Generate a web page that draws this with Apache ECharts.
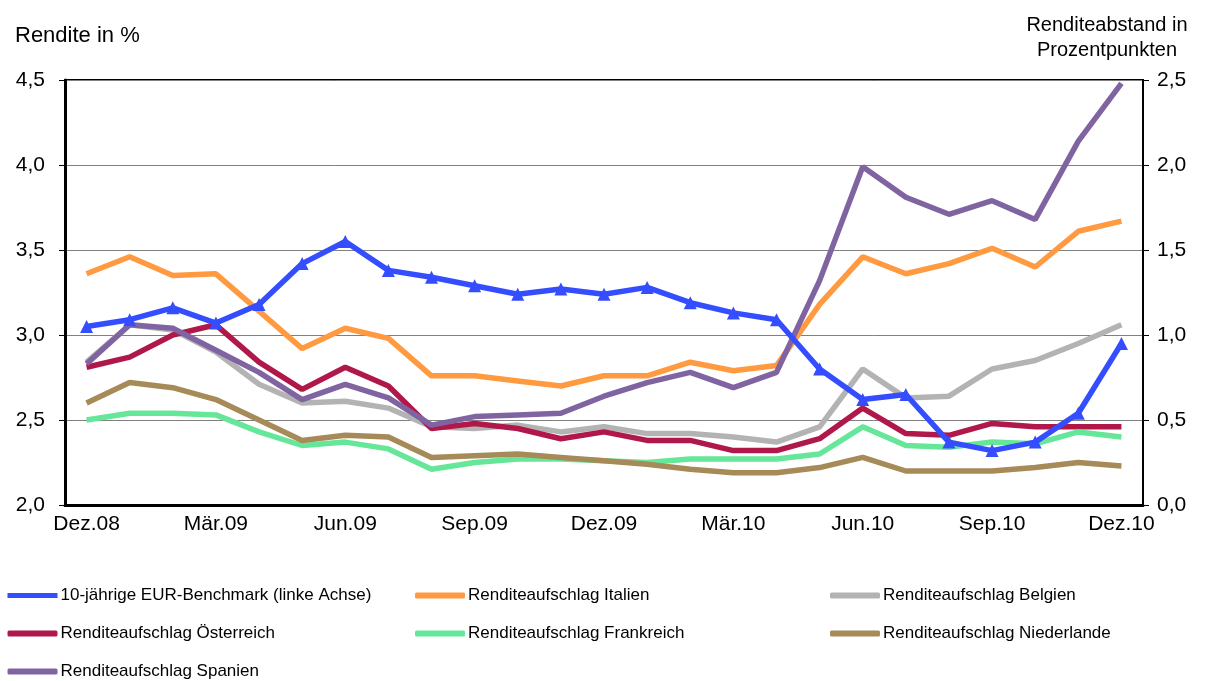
<!DOCTYPE html>
<html>
<head>
<meta charset="utf-8">
<script src="https://cdn.jsdelivr.net/npm/echarts@6/dist/echarts.min.js"></script>
<style>
  html, body { margin: 0; padding: 0; background: #fff; }
  #chart { width: 1210px; height: 681px; }
</style>
</head>
<body>
<div id="chart"></div>
<script>
// Monatswerte Dez.08 bis Dez.10
const months = ['Dez.08', 'Jan.09', 'Feb.09', 'Mär.09', 'Apr.09', 'Mai.09', 'Jun.09', 'Jul.09', 'Aug.09',
  'Sep.09', 'Okt.09', 'Nov.09', 'Dez.09', 'Jan.10', 'Feb.10', 'Mär.10', 'Apr.10', 'Mai.10', 'Jun.10',
  'Jul.10', 'Aug.10', 'Sep.10', 'Okt.10', 'Nov.10', 'Dez.10']

// linke Achse (Rendite in %)
const benchmark = [3.05, 3.09, 3.16, 3.07, 3.18, 3.42, 3.55, 3.38, 3.34, 3.29, 3.24, 3.27, 3.24,
  3.28, 3.19, 3.13, 3.09, 2.80, 2.62, 2.65, 2.37, 2.32, 2.37, 2.54, 2.95]

// rechte Achse (Renditeabstand in Prozentpunkten)
const italien = [1.36, 1.46, 1.35, 1.36, 1.14, 0.92, 1.04, 0.98, 0.76, 0.76, 0.73, 0.70, 0.76,
  0.76, 0.84, 0.79, 0.82, 1.18, 1.46, 1.36, 1.42, 1.51, 1.40, 1.61, 1.67]
const belgien = [0.84, 1.06, 1.03, 0.90, 0.71, 0.60, 0.61, 0.57, 0.46, 0.45, 0.47, 0.43, 0.46,
  0.42, 0.42, 0.40, 0.37, 0.46, 0.80, 0.63, 0.64, 0.80, 0.85, 0.95, 1.06]
const oesterreich = [0.81, 0.87, 1.00, 1.06, 0.84, 0.68, 0.81, 0.70, 0.45, 0.48, 0.45, 0.39, 0.43,
  0.38, 0.38, 0.32, 0.32, 0.39, 0.57, 0.42, 0.41, 0.48, 0.46, 0.46, 0.46]
const frankreich = [0.50, 0.54, 0.54, 0.53, 0.43, 0.35, 0.37, 0.33, 0.21, 0.25, 0.27, 0.27, 0.26,
  0.25, 0.27, 0.27, 0.27, 0.30, 0.46, 0.35, 0.34, 0.37, 0.36, 0.43, 0.40]
const niederlande = [0.60, 0.72, 0.69, 0.62, 0.50, 0.38, 0.41, 0.40, 0.28, 0.29, 0.30, 0.28, 0.26,
  0.24, 0.21, 0.19, 0.19, 0.22, 0.28, 0.20, 0.20, 0.20, 0.22, 0.25, 0.23]
const spanien = [0.83, 1.06, 1.04, 0.91, 0.78, 0.62, 0.71, 0.63, 0.47, 0.52, 0.53, 0.54, 0.64,
  0.72, 0.78, 0.69, 0.78, 1.32, 1.99, 1.81, 1.71, 1.79, 1.68, 2.14, 2.48]

const names = {
  bench: '10-jährige EUR-Benchmark (linke Achse)',
  it: 'Renditeaufschlag Italien',
  be: 'Renditeaufschlag Belgien',
  at: 'Renditeaufschlag Österreich',
  fr: 'Renditeaufschlag Frankreich',
  nl: 'Renditeaufschlag Niederlande',
  es: 'Renditeaufschlag Spanien'
}

const font = 'Liberation Sans, Arial, sans-serif'
const fmt = v => v.toFixed(1).replace('.', ',')

function spread(name, data, color) {
  return {
    name, type: 'line', yAxisIndex: 1, data,
    symbol: 'none', smooth: false,
    lineStyle: { color, width: 5.5 },
    itemStyle: { color }
  }
}

// Legendeneintrag: Aufschläge als dicker Balken, Benchmark als Linie mit Dreieck
const item = name => name === names.bench
  ? { name, lineStyle: { width: 5 } }
  : { name, icon: 'roundRect' }

const chart = echarts.init(document.getElementById('chart'))

function legendCol(left, data) {
  return {
    left, top: 587, height: 98, orient: 'vertical', itemGap: 21, padding: 0,
    itemWidth: 50, itemHeight: 6,
    textStyle: { fontFamily: font, fontSize: 17, color: '#000', padding: [0, 0, 0, -2] },
    data: data.map(item)
  }
}

chart.setOption({
  animation: false,
  title: [
    { text: 'Rendite in %', left: 10, top: 20,
      textStyle: { fontFamily: font, fontSize: 22, fontWeight: 'normal', color: '#000' } },
    { text: 'Renditeabstand in\nProzentpunkten', left: 1102, top: 8, textAlign: 'center',
      textStyle: { fontFamily: font, fontSize: 20, fontWeight: 'normal', color: '#000', lineHeight: 25 } }
  ],
  grid: {
    left: 65, right: 67, top: 80, bottom: 176,
    show: true, borderColor: '#000', borderWidth: 2
  },
  legend: [
    legendCol(5, [names.bench, names.at, names.es]),
    legendCol(415, [names.it, names.fr]),
    legendCol(830, [names.be, names.nl])
  ],
  xAxis: {
    type: 'category', data: months, boundaryGap: true,
    axisLine: { lineStyle: { color: '#000', width: 3 } },
    axisTick: { interval: 2, length: 6, lineStyle: { color: '#000', width: 2 } },
    axisLabel: { interval: 2, margin: 9, fontFamily: font, fontSize: 21, color: '#000' }
  },
  yAxis: [
    {
      type: 'value', min: 2.0, max: 4.5, interval: 0.5,
      axisLine: { show: true, lineStyle: { color: '#000', width: 3 } },
      axisTick: { show: true, length: 6, lineStyle: { color: '#000', width: 1 } },
      axisLabel: { margin: 20, fontFamily: font, fontSize: 21, color: '#000', formatter: fmt },
      splitLine: { lineStyle: { color: '#808080', width: 1 } }
    },
    {
      type: 'value', min: 0, max: 2.5, interval: 0.5, position: 'right',
      axisLine: { show: true, lineStyle: { color: '#000', width: 2 } },
      axisTick: { show: true, length: 6, lineStyle: { color: '#000', width: 1 } },
      axisLabel: { margin: 14, fontFamily: font, fontSize: 21, color: '#000', formatter: fmt },
      splitLine: { show: false }
    }
  ],
  series: [
    spread(names.it, italien, '#FF9A40'),
    spread(names.be, belgien, '#B3B3B3'),
    spread(names.at, oesterreich, '#B0184A'),
    spread(names.fr, frankreich, '#66E699'),
    spread(names.nl, niederlande, '#A68A58'),
    spread(names.es, spanien, '#8064A2'),
    {
      name: names.bench, type: 'line', yAxisIndex: 0, data: benchmark,
      symbol: 'triangle', symbolSize: 13, z: 5,
      lineStyle: { color: '#334DFF', width: 5.5 },
      itemStyle: { color: '#334DFF' }
    }
  ]
})

window.addEventListener('resize', () => chart.resize())
</script>
</body>
</html>
